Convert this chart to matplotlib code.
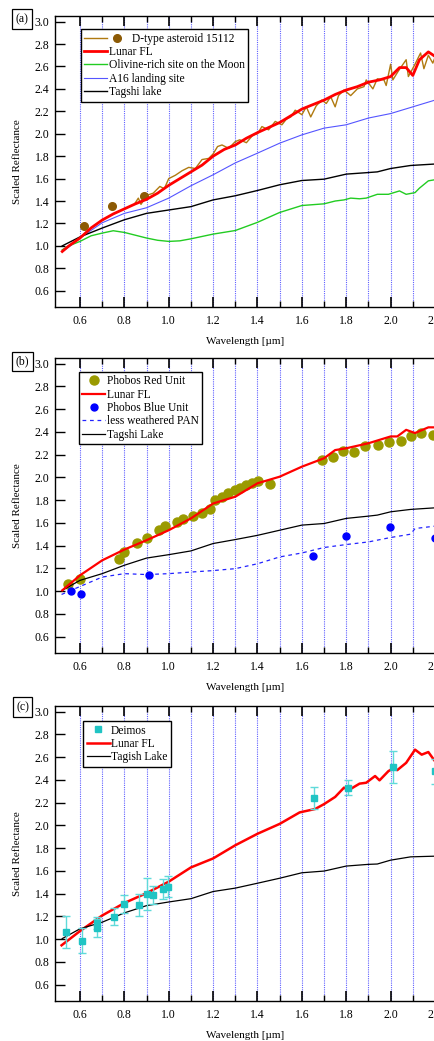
import numpy as np
import matplotlib
matplotlib.use("Agg")
import matplotlib.pyplot as plt
from matplotlib.lines import Line2D
from matplotlib.legend_handler import HandlerBase
from matplotlib.ticker import FixedLocator, FormatStrFormatter

plt.rcParams['font.family'] = ['Liberation Serif', 'DejaVu Serif']
plt.rcParams['font.size'] = 8.3

# ---------------- Panel (a) data ----------------
a_red_wl = [0.52, 0.55, 0.6, 0.65, 0.7, 0.75, 0.8, 0.85, 0.9, 0.95, 1.0, 1.05, 1.1, 1.15, 1.2,
            1.25, 1.3, 1.35, 1.4, 1.45, 1.5, 1.55, 1.6, 1.65, 1.7, 1.75, 1.8, 1.85, 1.9, 1.95,
            2.0, 2.04, 2.07, 2.1, 2.13, 2.17, 2.2]
a_red_val = [0.95, 1.0, 1.07, 1.16, 1.23, 1.285, 1.33, 1.375, 1.415, 1.47, 1.54, 1.60, 1.66, 1.72, 1.80,
             1.86, 1.90, 1.96, 2.01, 2.055, 2.10, 2.16, 2.22, 2.26, 2.30, 2.35, 2.39, 2.42, 2.46, 2.48,
             2.51, 2.59, 2.59, 2.52, 2.66, 2.73, 2.69]

a_ast_wl = [0.848, 0.863, 0.875, 0.9, 0.93, 0.96, 0.98, 1.0, 1.03, 1.06, 1.09, 1.12, 1.15, 1.18, 1.2,
            1.22, 1.24, 1.27, 1.3, 1.32, 1.35, 1.38, 1.4, 1.42, 1.45, 1.48, 1.51, 1.53, 1.55, 1.57,
            1.6, 1.62, 1.64, 1.665, 1.69, 1.71, 1.73, 1.75, 1.765, 1.79, 1.82, 1.85, 1.88, 1.89,
            1.92, 1.94, 1.97, 1.98, 2.0, 2.01, 2.035, 2.07, 2.08, 2.11, 2.135, 2.15, 2.17, 2.19, 2.2]
a_ast_val = [1.38, 1.426, 1.37, 1.45, 1.47, 1.53, 1.51, 1.60, 1.63, 1.67, 1.70, 1.69, 1.77, 1.78, 1.82,
             1.886, 1.90, 1.87, 1.93, 1.946, 1.92, 1.99, 2.0, 2.064, 2.035, 2.11, 2.08, 2.13, 2.15, 2.21,
             2.17, 2.24, 2.15, 2.25, 2.30, 2.27, 2.33, 2.24, 2.34, 2.39, 2.34, 2.40, 2.42, 2.48,
             2.40, 2.49, 2.48, 2.43, 2.62, 2.48, 2.56, 2.66, 2.51, 2.62, 2.72, 2.58, 2.70, 2.63, 2.68]

a_ast_dot_wl = [0.62, 0.745, 0.89]
a_ast_dot_val = [1.173, 1.357, 1.447]

a_oliv_wl = [0.52, 0.55, 0.6, 0.65, 0.7, 0.75, 0.8, 0.85, 0.9, 0.95, 1.0, 1.05, 1.1, 1.2, 1.3, 1.4,
             1.5, 1.6, 1.7, 1.75, 1.79, 1.82, 1.86, 1.89, 1.94, 1.99, 2.04, 2.07, 2.11, 2.13, 2.17, 2.2]
a_oliv_val = [0.965, 1.0, 1.04, 1.09, 1.114, 1.135, 1.12, 1.095, 1.07, 1.05, 1.04, 1.045, 1.063, 1.105,
              1.137, 1.21, 1.298, 1.36, 1.375, 1.40, 1.41, 1.426, 1.42, 1.426, 1.46, 1.46, 1.49, 1.46,
              1.475, 1.515, 1.58, 1.59]

a_a16_wl = [0.52, 0.55, 0.6, 0.7, 0.8, 0.9, 1.0, 1.1, 1.2, 1.3, 1.4, 1.5, 1.6, 1.7, 1.8, 1.9, 2.0,
            2.1, 2.2]
a_a16_val = [0.95, 0.99, 1.07, 1.206, 1.29, 1.34, 1.426, 1.536, 1.634, 1.74, 1.827, 1.916, 1.99, 2.05,
             2.08, 2.14, 2.18, 2.24, 2.30]

tag_wl = [0.52, 0.6, 0.7, 0.8, 0.9, 1.0, 1.1, 1.2, 1.3, 1.4, 1.5, 1.6, 1.7, 1.8, 1.9, 1.94, 2.0,
          2.09, 2.2]
a_tag_val = [1.0, 1.08, 1.159, 1.233, 1.29, 1.32, 1.35, 1.41, 1.447, 1.494, 1.545, 1.583, 1.595,
             1.64, 1.654, 1.66, 1.69, 1.717, 1.73]

# ---------------- Panel (b) data ----------------
b_red_wl = [0.52, 0.6, 0.7, 0.8, 0.9, 1.0, 1.1, 1.2, 1.3, 1.4, 1.5, 1.6, 1.7, 1.75, 1.8, 1.9,
            2.0, 2.03, 2.07, 2.11, 2.17, 2.2]
b_red_val = [1.006, 1.138, 1.27, 1.365, 1.447, 1.535, 1.639, 1.77, 1.83, 1.948, 2.006, 2.094, 2.168,
             2.24, 2.256, 2.30, 2.36, 2.36, 2.418, 2.39, 2.44, 2.44]

b_pru_wl = [0.547, 0.6, 0.777, 0.8, 0.855, 0.9, 0.957, 0.983, 1.035, 1.065, 1.11, 1.148, 1.186,
            1.208, 1.238, 1.268, 1.298, 1.32, 1.35, 1.373, 1.403, 1.456, 1.689, 1.741, 1.786, 1.836,
            1.884, 1.941, 1.992, 2.049, 2.094, 2.139, 2.191]
b_pru_val = [1.059, 1.109, 1.286, 1.344, 1.427, 1.471, 1.535, 1.574, 1.609, 1.632, 1.659, 1.688, 1.72,
             1.80, 1.829, 1.86, 1.889, 1.91, 1.933, 1.948, 1.97, 1.939, 2.153, 2.18, 2.235, 2.224,
             2.277, 2.283, 2.31, 2.324, 2.368, 2.394, 2.374]

b_pbu_wl = [0.558, 0.605, 0.911, 1.648, 1.798, 1.996, 2.2]
b_pbu_val = [1.0, 0.977, 1.138, 1.309, 1.483, 1.559, 1.471]

b_pan_wl = [0.517, 0.6, 0.7, 0.8, 0.9, 1.0, 1.1, 1.2, 1.3, 1.4, 1.5, 1.6, 1.7, 1.8, 1.9, 2.0,
            2.09, 2.11, 2.2]
b_pan_val = [0.97, 1.04, 1.123, 1.153, 1.145, 1.153, 1.167, 1.18, 1.197, 1.24, 1.30, 1.335, 1.383,
             1.409, 1.432, 1.471, 1.50, 1.55, 1.571]

b_tag_val = [1.006, 1.094, 1.153, 1.227, 1.29, 1.32, 1.353, 1.418, 1.453, 1.49, 1.535, 1.58, 1.594,
             1.639, 1.659, 1.668, 1.697, 1.718, 1.732]

# ---------------- Panel (c) data ----------------
c_red_wl = [0.517, 0.6, 0.7, 0.8, 0.9, 1.0, 1.1, 1.2, 1.3, 1.4, 1.5, 1.59, 1.66, 1.7, 1.75, 1.79,
            1.81, 1.86, 1.89, 1.93, 1.95, 1.99, 2.01, 2.03, 2.07, 2.11, 2.14, 2.17, 2.2]
c_red_val = [0.945, 1.07, 1.207, 1.317, 1.404, 1.505, 1.63, 1.709, 1.825, 1.926, 2.013, 2.114, 2.144,
             2.187, 2.25, 2.332, 2.309, 2.367, 2.375, 2.434, 2.396, 2.477, 2.50, 2.486, 2.55, 2.666,
             2.622, 2.645, 2.564]

c_tag_val = [1.004, 1.09, 1.148, 1.23, 1.294, 1.326, 1.355, 1.418, 1.448, 1.491, 1.535, 1.583, 1.598,
             1.642, 1.657, 1.66, 1.694, 1.723, 1.729]

c_dei_wl = [0.537, 0.607, 0.675, 0.678, 0.755, 0.8, 0.866, 0.9, 0.927, 0.972, 0.998, 1.656, 1.806,
            2.009, 2.2]
c_dei_val = [1.065, 0.983, 1.10, 1.14, 1.195, 1.308, 1.302, 1.395, 1.389, 1.441, 1.462, 2.24, 2.332,
             2.512, 2.477]
c_dei_err = [0.14, 0.11, 0.08, 0.05, 0.075, 0.08, 0.095, 0.14, 0.08, 0.09, 0.09, 0.10, 0.065, 0.14, 0.11]

# ---------------- Figure ----------------
W, H = 435, 1041
fig = plt.figure(figsize=(W / 100, H / 100), dpi=100)

def px_axes(top, bottom, left=55, right=435):
    return fig.add_axes([left / W, 1 - bottom / H, (right - left) / W, (bottom - top) / H])

ax_a = px_axes(16, 307)
ax_b = px_axes(358, 653)
ax_c = px_axes(706, 1001)

grid_col = '#6060ff'

def style(ax):
    ax.set_xlim(0.4874, 2.2)
    ax.set_ylim(0.455, 3.05)
    ax.xaxis.set_major_locator(FixedLocator(np.arange(0.6, 2.21, 0.2)))
    ax.xaxis.set_minor_locator(FixedLocator(np.arange(0.7, 2.2, 0.2)))
    ax.yaxis.set_major_locator(FixedLocator(np.arange(0.6, 3.01, 0.2)))
    ax.xaxis.set_major_formatter(FormatStrFormatter('%.1f'))
    ax.yaxis.set_major_formatter(FormatStrFormatter('%.1f'))
    ax.tick_params(axis='x', which='major', direction='in', length=7, width=1.2, top=True,
                   pad=6, labelsize=8.5)
    ax.tick_params(axis='x', which='minor', direction='in', length=4, width=1.0, top=True)
    ax.tick_params(axis='y', which='major', direction='in', length=7, width=1.0, right=False,
                   pad=4, labelsize=8.5)
    ax.grid(axis='x', which='both', color=grid_col, linestyle=(0, (1, 1)), linewidth=0.8)
    ax.set_axisbelow(False)
    for s in ax.spines.values():
        s.set_linewidth(1.0)
    ax.set_xlabel('Wavelength [µm]', fontsize=8, labelpad=7)
    ax.set_ylabel('Scaled Reflectance', fontsize=8, labelpad=9)

for ax in (ax_a, ax_b, ax_c):
    style(ax)

# ---- panel a ----
l_ast, = ax_a.plot(a_ast_wl, a_ast_val, color='#b07a10', lw=1.0, zorder=3)
d_ast, = ax_a.plot(a_ast_dot_wl, a_ast_dot_val, 'o', color='#8c5a05', ms=5.5, zorder=4)
l_red_a, = ax_a.plot(a_red_wl, a_red_val, color='#ff0000', lw=2.0, zorder=4)
l_oliv, = ax_a.plot(a_oliv_wl, a_oliv_val, color='#22cc22', lw=1.0, zorder=3)
l_a16, = ax_a.plot(a_a16_wl, a_a16_val, color='#5555ff', lw=0.8, zorder=3)
l_tag_a, = ax_a.plot(tag_wl, a_tag_val, color='black', lw=1.0, zorder=3)


class LineThenDot(HandlerBase):
    def create_artists(self, legend, orig_handle, xdescent, ydescent, width, height,
                       fontsize, trans):
        line, dot = orig_handle
        y = height / 2 - ydescent
        l = Line2D([-xdescent, -xdescent + width], [y, y], color=line.get_color(),
                   lw=line.get_linewidth(), transform=trans)
        d = Line2D([width + 0.85 * fontsize], [y], marker='o', linestyle='none',
                   color=dot.get_color(), markersize=dot.get_markersize(), transform=trans)
        return [l, d]


leg_kw = dict(loc='upper left', borderaxespad=0, fancybox=False, edgecolor='black',
              framealpha=1, fontsize=8.3, handlelength=2.0, handletextpad=0.1,
              labelspacing=0.12, borderpad=0.3, numpoints=1)

lg = ax_a.legend([(l_ast, d_ast), l_red_a, l_oliv, l_a16, l_tag_a],
                 ['        D-type asteroid 15112', 'Lunar FL', 'Olivine-rich site on the Moon',
                  'A16 landing site', 'Tagshi lake'],
                 handler_map={tuple: LineThenDot()}, bbox_to_anchor=(0.068, 0.955), **leg_kw)
lg.get_frame().set_linewidth(1.0)
lg.set_zorder(10)

# ---- panel b ----
p_pru, = ax_b.plot(b_pru_wl, b_pru_val, 'o', color='#9a9a00', ms=6.5, zorder=3)
l_red_b, = ax_b.plot(b_red_wl, b_red_val, color='#ff0000', lw=1.6, zorder=4)
p_pbu, = ax_b.plot(b_pbu_wl, b_pbu_val, 'o', color='#0000ff', ms=5.0, zorder=4)
l_pan, = ax_b.plot(b_pan_wl, b_pan_val, color='#2222ff', lw=0.9, linestyle=(0, (3, 3)), zorder=3)
l_tag_b, = ax_b.plot(tag_wl, b_tag_val, color='black', lw=0.9, zorder=3)
lg = ax_b.legend([p_pru, l_red_b, p_pbu, l_pan, l_tag_b],
                 ['Phobos Red Unit', 'Lunar FL', 'Phobos Blue Unit', 'less weathered PAN',
                  'Tagshi Lake'], bbox_to_anchor=(0.063, 0.953), **leg_kw)
lg.get_frame().set_linewidth(1.0)
lg.set_zorder(10)

# ---- panel c ----
l_red_c, = ax_c.plot(c_red_wl, c_red_val, color='#ff0000', lw=1.8, zorder=3)
l_tag_c, = ax_c.plot(tag_wl, c_tag_val, color='black', lw=0.9, zorder=3)
ax_c.errorbar(c_dei_wl, c_dei_val, yerr=c_dei_err, fmt='none', ecolor='#5fdada',
              elinewidth=1.0, capsize=3, capthick=1.0, zorder=4)
p_dei, = ax_c.plot(c_dei_wl, c_dei_val, 's', color='#20c4c4', ms=5, zorder=5)
lg = ax_c.legend([p_dei, l_red_c, l_tag_c], ['Deimos', 'Lunar FL', 'Tagish Lake'],
                 bbox_to_anchor=(0.074, 0.949), **leg_kw)
lg.get_frame().set_linewidth(1.0)
lg.set_zorder(10)

# panel labels
for lab, (x, y) in zip(['(a)', '(b)', '(c)'], [(22, 19), (22.5, 361.5), (22.5, 707)]):
    fig.text(x / W, 1 - y / H, lab, ha='center', va='center', fontsize=8.5,
             bbox=dict(boxstyle='square,pad=0.3', fc='white', ec='black', lw=0.9))

fig.savefig('out.png', dpi=100)
